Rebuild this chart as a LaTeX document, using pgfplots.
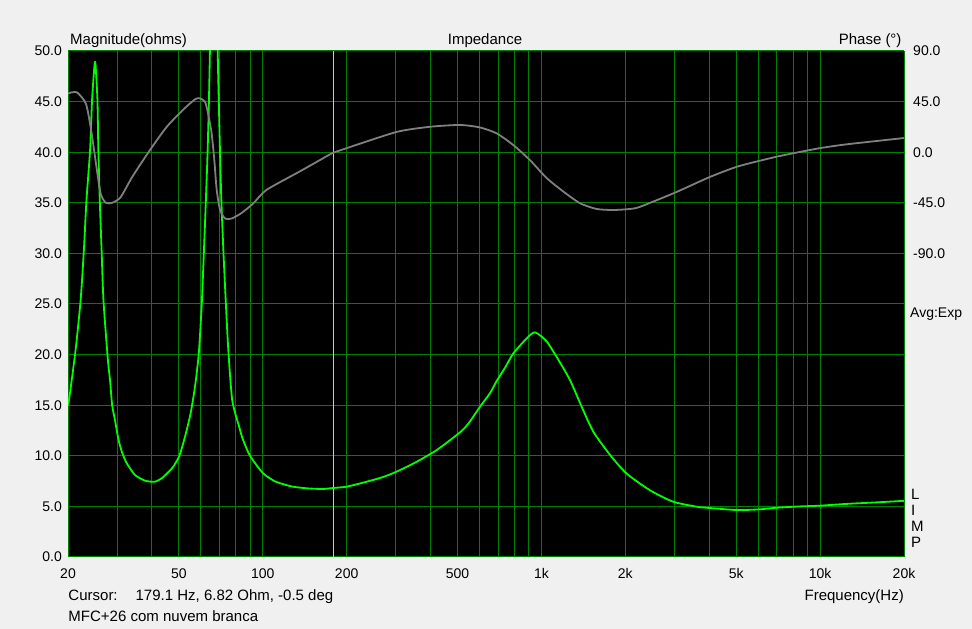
\documentclass[border=0pt]{standalone}
\usepackage{fontspec}
\setmainfont{Liberation Sans}
\usepackage{pgfplots}
\usepackage{pgfplotstable}
\pgfplotsset{compat=1.18}
\definecolor{winbg}{RGB}{240,240,240}
\definecolor{gridgreen}{RGB}{0,128,0}
\definecolor{magc}{RGB}{0,255,0}
\definecolor{phc}{RGB}{128,128,128}
\definecolor{curc}{RGB}{228,208,90}

\pgfplotstableread{
f z
20 15.0
20.17 15.5
21.3 20.5
22.2 25.4
22.8 30.3
23.3 35.3
24.0 40.2
24.4 45.2
24.9 48.6
25.1 48.7
25.5 45.2
25.7 40.2
26.0 35.3
26.4 30.3
26.8 25.4
27.8 19.5
28.3 17.5
28.8 15.0
29.5 13.5
30.3 11.7
31.2 10.4
32.5 9.26
34.8 8.1
37.8 7.54
41.0 7.44
43.5 7.8
45.5 8.3
47.7 8.92
50.2 10.0
52.6 11.9
54.8 13.9
56.3 15.7
57.6 17.6
59.0 20.3
60.4 25.0
61.5 30.3
62.5 35.3
63.4 40.2
64.1 45.2
64.6 50
65.6 62
66.7 70
67.8 62
68.9 50
69.5 45.2
70.2 40.2
71.0 35.3
72.2 30.3
73.6 25.4
75.2 20.5
77.7 15.5
82.4 12.8
84.9 11.6
90 10.0
100 8.3
110 7.5
115 7.3
128 6.95
145 6.78
164 6.72
179.1 6.82
200 6.95
236 7.44
270 7.9
302 8.43
345 9.2
366 9.58
421 10.57
483 11.8
524 12.6
554 13.4
602 14.85
654 16.2
691 17.4
740 18.7
792 20.1
885 21.6
948 22.2
1044 21.3
1149 19.5
1265 17.5
1394 14.85
1534 12.4
1761 10.1
2020 8.25
2450 6.6
2964 5.47
3606 4.97
4023 4.84
5028 4.64
6000 4.7
6998 4.87
8500 5.0
9984 5.07
12500 5.25
16000 5.4
20000 5.55
}\magdata

\pgfplotstableread{
f p
20 52
20.45 53
21.6 53
23.2 43
24.1 22.5
24.8 2
25.5 -19
26.2 -37
27.3 -45
28.8 -45
30.9 -40
34.0 -22
39.4 2
45.2 22.5
51.9 38
57.1 47
59.2 48
62.0 45
63.7 34
65.5 17
67.0 -7
68.3 -33
70.2 -51
73.2 -59
77.3 -59
84.0 -54
92.5 -45.5
103 -33.6
136 -17
174 -2
179.1 -0.5
200 3.6
302 18
398 22.6
510 24.2
602 22
691 16.7
792 6.4
909 -7
1044 -23
1198 -35
1375 -45.4
1578 -50.5
1810 -51.4
2078 -50.5
2256 -48.6
3013 -36
4023 -22
5017 -13
5982 -8
6982 -4
7990 -1
9984 3.6
12446 7
20000 12.6
}\phasedata

\begin{document}
\begin{tikzpicture}
\path[use as bounding box, fill=winbg] (-68pt,-72pt) rectangle (904pt,557pt);
\begin{axis}[
  at={(0pt,0pt)}, anchor=south west, scale only axis,
  width=836pt, height=506pt,
  xmode=log, xmin=20, xmax=20000, ymin=0, ymax=50,
  axis background/.style={fill=black},
  axis line style={draw=none},
  major tick length=0pt, minor tick length=0pt,
  xtick={20,50,100,200,500,1000,2000,5000,10000,20000},
  xticklabels={20,50,100,200,500,1k,2k,5k,10k,20k},
  minor xtick={30,40,60,70,80,90,300,400,600,700,800,900,3000,4000,6000,7000,8000,9000},
  ytick={0,5,...,50},
  grid=both,
  major grid style={gridgreen, line width=1pt},
  minor grid style={gridgreen, line width=1pt},
  /pgf/number format/assume math mode=true,
  tick label style={font=\fontsize{14}{16}\selectfont},
  yticklabel style={/pgf/number format/.cd, fixed, fixed zerofill, precision=1, /tikz/.cd, anchor=east, inner sep=0pt, xshift=-6pt},
  xticklabel style={anchor=base, inner sep=0pt, yshift=-21.3pt},
]
\addplot[curc, line width=1pt] coordinates {(179.1,0) (179.1,50)};
\addplot[magc, line width=1.8pt, line join=round, smooth, tension=0.4] table[x=f, y=z] {\magdata};
\end{axis}
\begin{axis}[
  at={(0pt,0pt)}, anchor=south west, scale only axis,
  width=836pt, height=506pt,
  xmode=log, xmin=20, xmax=20000, ymin=-360, ymax=90,
  axis x line=none, axis y line*=right,
  y axis line style={draw=none},
  major tick length=0pt, minor tick length=0pt,
  ytick={-90,-45,0,45,90},
  /pgf/number format/assume math mode=true,
  tick label style={font=\fontsize{14}{16}\selectfont},
  yticklabel style={/pgf/number format/.cd, fixed, fixed zerofill, precision=1, /tikz/.cd, anchor=west, inner sep=0pt, xshift=9pt},
]
\addplot[phc, line width=1.8pt, line join=round, smooth, tension=0.4] table[x=f, y=p] {\phasedata};
\end{axis}
\begin{scope}[every node/.style={inner sep=0pt, font=\fontsize{15}{18}\selectfont}]
\node[anchor=base west] at (2pt,512pt) {Magnitude(ohms)};
\node[anchor=base] at (417pt,512pt) {Impedance};
\node[anchor=base east] at (833.7pt,512pt) {Phase (°)};
\node[anchor=base west, font=\fontsize{14}{16}\selectfont] at (842pt,239pt) {Avg:Exp};
\node[anchor=base west] at (843pt,57pt) {L};
\node[anchor=base west] at (843pt,41pt) {I};
\node[anchor=base west] at (843pt,25.3pt) {M};
\node[anchor=base west] at (843pt,9.7pt) {P};
\node[anchor=base west] at (0.3pt,-44pt) {Cursor:\hspace{1.2em}179.1 Hz, 6.82 Ohm, -0.5 deg};
\node[anchor=base west] at (0.3pt,-64.7pt) {MFC+26 com nuvem branca};
\node[anchor=base east] at (836pt,-43.7pt) {Frequency(Hz)};
\end{scope}
\end{tikzpicture}
\end{document}
